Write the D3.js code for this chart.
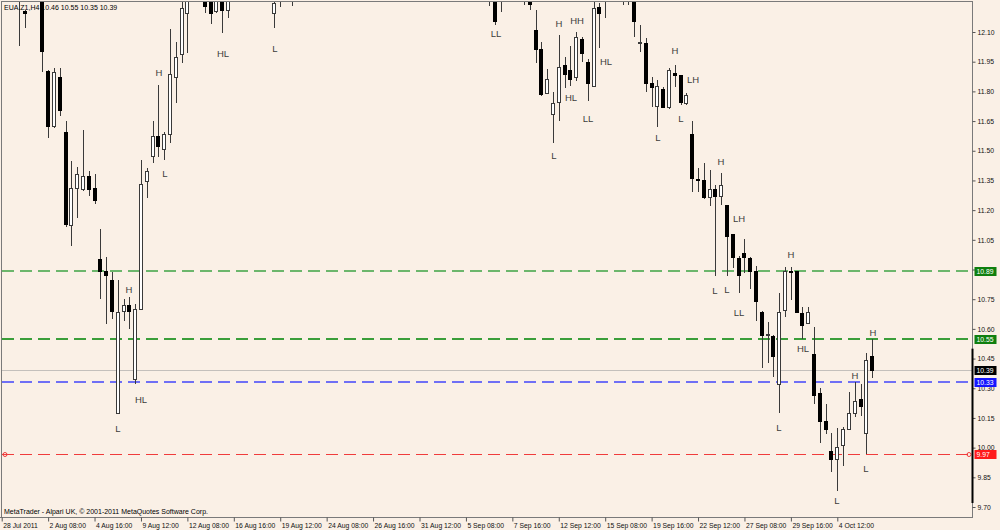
<!DOCTYPE html>
<html><head><meta charset="utf-8">
<script src="https://cdn.jsdelivr.net/npm/d3@7"></script>
<style>html,body{margin:0;padding:0;background:#FAF0E6;} svg{display:block;}</style>
</head><body><svg id="c" width="1000" height="530"></svg>
<script>
const title = "EUA.Z1,H4 10.46 10.55 10.35 10.39";
const copyright = "MetaTrader - Alpari UK, \u00A9 2001-2011 MetaQuotes Software Corp.";

// bar number (H4 bars from 28 Jul 2011) for each visible candle
const barIndex = [3,4,7,8,9,10,11,12,13,14,15,16,17,18,19,20,21,22,23,24,25,26,27,28,29,30,31,32,35,36,37,38,39,47,48,50,84,85,86,90,91,92,93,94,95,96,97,98,99,100,101,102,103,104,107,108,109,110,111,112,113,114,115,116,117,118,119,120,121,122,123,124,125,126,127,128,129,130,131,132,133,134,135,136,137,138,139,140,141,142,143,144,145,146,147,148,149,150];
const openP  = [12.30,12.203,12.32,11.898,11.621,11.869,11.591,11.120,11.310,11.302,11.372,11.310,10.953,10.889,10.842,10.173,10.690,10.720,10.342,10.699,11.347,11.473,11.571,11.507,11.580,11.869,11.984,12.191,12.28,12.30,12.203,12.31,12.208,12.191,12.30,12.29,12.30,12.31,12.27,12.28,12.26,12.110,12.013,11.790,11.681,11.743,11.930,11.903,11.869,12.063,11.945,11.827,12.225,12.29,12.28,12.29,12.27,12.041,12.043,11.841,11.726,11.810,11.720,11.891,11.878,11.740,11.580,11.354,11.352,11.263,11.302,11.268,11.221,11.078,10.956,10.982,10.956,10.889,10.682,10.567,10.560,10.321,10.693,10.890,10.889,10.680,10.628,10.471,10.271,10.131,9.979,9.941,10.013,10.092,10.170,10.241,10.069,10.46];
const highP  = [12.40,12.211,12.35,11.908,11.918,11.920,11.652,11.450,11.419,11.605,11.398,11.381,11.105,10.965,10.889,10.847,10.749,10.759,10.724,11.453,11.413,11.650,11.832,11.596,12.114,12.051,12.30,12.35,12.32,12.34,12.33,12.34,12.30,12.29,12.33,12.34,12.33,12.33,12.32,12.33,12.29,12.211,12.051,11.912,11.798,12.085,11.972,12.031,12.098,12.076,11.962,12.26,12.245,12.32,12.33,12.32,12.30,12.135,12.071,11.871,11.857,11.824,11.917,11.933,11.883,11.793,11.650,11.411,11.440,11.403,11.327,11.390,11.225,11.080,10.968,11.054,10.962,10.918,10.690,10.635,10.569,10.780,10.913,10.914,10.892,10.712,10.712,10.611,10.300,10.220,10.072,10.100,10.106,10.282,10.333,10.321,10.480,10.55];
const lowP   = [12.03,12.119,11.90,11.564,11.615,11.677,11.116,11.020,11.159,11.295,11.271,11.229,10.749,10.623,10.648,10.168,10.640,10.598,10.321,10.695,11.260,11.437,11.470,11.453,11.538,11.740,11.942,11.992,12.194,12.139,12.194,12.093,12.169,12.122,12.226,12.231,12.231,12.135,12.203,12.236,12.211,11.942,11.777,11.787,11.538,11.652,11.816,11.827,11.852,11.950,11.753,11.821,12.018,12.169,12.236,12.236,12.073,12.000,11.798,11.720,11.621,11.714,11.711,11.821,11.731,11.730,11.290,11.293,11.255,11.222,10.867,11.228,10.867,10.906,10.780,10.881,10.800,10.641,10.401,10.426,10.358,10.176,10.662,10.746,10.678,10.547,10.625,10.220,10.022,10.069,9.878,9.782,9.909,10.089,10.156,10.161,9.968,10.35];
const closeP = [12.36,12.191,12.00,11.625,11.894,11.701,11.128,11.310,11.381,11.372,11.302,11.251,10.889,10.869,10.690,10.682,10.720,10.690,10.699,11.330,11.394,11.571,11.520,11.583,11.883,11.972,12.220,12.30,12.231,12.194,12.30,12.211,12.26,12.245,12.28,12.31,12.27,12.152,12.29,12.30,12.24,12.013,11.782,11.861,11.740,11.920,11.883,11.861,12.071,11.992,11.841,12.220,12.191,12.27,12.30,12.27,12.152,12.045,11.841,11.821,11.827,11.720,11.903,11.881,11.743,11.778,11.361,11.351,11.265,11.302,11.268,11.322,11.069,10.962,10.872,10.962,10.889,10.737,10.569,10.571,10.459,10.682,10.889,10.887,10.682,10.619,10.682,10.261,10.131,10.092,9.942,9.999,10.092,10.173,10.232,10.207,10.439,10.39];

// time axis
const dateTickIndex = [0,8,16,24,32,40,48,56,64,72,80,88,96,104,112,120,128,136,144];
const dateTickLabels = ["28 Jul 2011","2 Aug 08:00","4 Aug 16:00","9 Aug 12:00","12 Aug 08:00","16 Aug 16:00","19 Aug 12:00","24 Aug 08:00","26 Aug 16:00","31 Aug 12:00","5 Sep 08:00","7 Sep 16:00","12 Sep 12:00","15 Sep 08:00","19 Sep 16:00","22 Sep 12:00","27 Sep 08:00","29 Sep 16:00","4 Oct 12:00"];
// price axis
const priceTicks = [9.70,9.85,10.00,10.15,10.30,10.45,10.60,10.75,10.90,11.05,11.20,11.35,11.50,11.65,11.80,11.95,12.10];

// horizontal levels
const levelValues = [10.89, 10.55, 10.39, 10.33, 9.97];
const levelKinds  = ["res1","res2","bid","blue","sup"];

// swing annotations
const noteText  = ["H","HL","L","H","L","HL","L","LL","H","HH","HL","LL","HL","L","H","LH","L","L","H","LH","L","L","LL","H","L","HL","H","H","L","L"];
const noteBar   = [22,24.07,20.05,27.03,28.07,38.16,47.03,85.1,96.09,99.14,98.15,101.09,104.16,95.1,116.09,119.1,113.07,117.12,124.02,127.12,122.98,125.05,127.07,136.03,134.02,138.07,150.1,147.12,149.02,144.02];
const notePrice = [10.781,10.225,10.079,11.878,11.367,11.974,11.999,12.075,12.125,12.140,11.751,11.645,11.933,11.458,11.989,11.842,11.549,11.645,11.428,11.140,10.776,10.781,10.665,10.958,10.084,10.483,10.564,10.347,9.877,9.715];

// ---------- drawing ----------
const BG = "#FAF0E6";
const plot = {left:2, right:972, top:2, bottom:517};
const svg = d3.select("#c");
const y = d3.scaleLinear().domain([9.70, 12.10]).range([507, 32]);
const x = d3.scaleLinear().domain([0, 144]).range([1.7, 837.3]);
const FONT = "'Liberation Sans', Arial, sans-serif";

svg.append("rect").attr("width",1000).attr("height",530).attr("fill",BG);

svg.append("defs").append("clipPath").attr("id","pc")
  .append("rect").attr("x",plot.left).attr("y",plot.top)
  .attr("width",plot.right-plot.left).attr("height",plot.bottom-plot.top);

const g = svg.append("g").attr("clip-path","url(#pc)");

// levels
const levelStyle = {
  res1:{stroke:"#6cb66c", w:2, dash:"12,6", box:"#0f7f0f", txt:"#ffffff"},
  res2:{stroke:"#3a9e3a", w:2, dash:"12,6", box:"#0f7f0f", txt:"#ffffff"},
  bid: {stroke:"#c4c0bc", w:1, dash:null,   box:"#000000", txt:"#ffffff"},
  blue:{stroke:"#6f6ff5", w:2, dash:"12,6", box:"#1515ff", txt:"#ffffff"},
  sup: {stroke:"#f03c3c", w:1, dash:"12,6", box:"#ff1a1a", txt:"#ffffff"}
};
const levels = levelValues.map((v,i)=>({v, k:levelKinds[i]}));
g.selectAll("line.lvl").data(levels).enter().append("line")
  .attr("class","lvl")
  .attr("shape-rendering","crispEdges")
  .attr("x1",plot.left).attr("x2",plot.right)
  .attr("y1",d=>Math.round(y(d.v))+(levelStyle[d.k].w%2 ? 0.5 : 0))
  .attr("y2",d=>Math.round(y(d.v))+(levelStyle[d.k].w%2 ? 0.5 : 0))
  .attr("stroke",d=>levelStyle[d.k].stroke)
  .attr("stroke-width",d=>levelStyle[d.k].w)
  .attr("stroke-dasharray",d=>levelStyle[d.k].dash);
// small end markers of the support line
const supV = levelValues[levelKinds.indexOf("sup")];
[plot.left+3, plot.right-3].forEach(px=>{
  g.append("circle").attr("cx",px).attr("cy",Math.round(y(supV))+0.5).attr("r",2)
   .attr("fill","none").attr("stroke","#f03c3c").attr("stroke-width",1);
});

// candles
const bars = barIndex.map((b,i)=>({b, o:openP[i], h:highP[i], l:lowP[i], c:closeP[i]}));
const cg = g.append("g").attr("shape-rendering","crispEdges");
cg.selectAll("line.wick").data(bars).enter().append("line")
  .attr("class","wick")
  .attr("x1",d=>Math.round(x(d.b))+0.5).attr("x2",d=>Math.round(x(d.b))+0.5)
  .attr("y1",d=>y(d.h)).attr("y2",d=>y(d.l))
  .attr("stroke","#3a3a3a").attr("stroke-width",1);
cg.selectAll("rect.body").data(bars).enter().append("rect")
  .attr("class","body")
  .attr("x",d=>Math.round(x(d.b))-1.5)
  .attr("width",3)
  .attr("y",d=>Math.min(y(d.o),y(d.c)))
  .attr("height",d=>Math.max(1,Math.abs(y(d.o)-y(d.c))))
  .attr("fill",d=>d.c>=d.o ? "#ffffff" : "#000000")
  .attr("stroke",d=>d.c>=d.o ? "#3a3a3a" : "#000000")
  .attr("stroke-width",1);

// annotations
g.selectAll("text.note").data(noteText.map((t,i)=>({t,b:noteBar[i],p:notePrice[i]}))).enter()
  .append("text").attr("class","note")
  .attr("x",d=>Math.round(x(d.b))).attr("y",d=>Math.round(y(d.p)))
  .attr("text-anchor","middle")
  .attr("font-family",FONT).attr("font-size",9.5).attr("fill","#3c3c3c")
  .text(d=>d.t);

// frame
svg.append("rect").attr("x",plot.left-0.5).attr("y",plot.top-0.5)
  .attr("width",plot.right-plot.left+1).attr("height",plot.bottom-plot.top+1)
  .attr("fill","none").attr("stroke","#7a7a7a").attr("stroke-width",1)
  .attr("shape-rendering","crispEdges");
svg.append("line").attr("x1",0).attr("x2",plot.right).attr("y1",plot.bottom+0.5).attr("y2",plot.bottom+0.5)
  .attr("stroke","#7a7a7a").attr("shape-rendering","crispEdges");

// right price axis
const ra = svg.append("g").attr("transform",`translate(${plot.right+0.5},0)`)
  .call(d3.axisRight(y).tickValues(priceTicks).tickFormat(d3.format(".2f")).tickSize(3).tickPadding(2));
ra.select(".domain").remove();
ra.selectAll("line").attr("stroke","#555");
ra.selectAll("text").attr("font-family",FONT).attr("font-size",6.8).attr("fill","#111");

// bottom time axis
const ba = svg.append("g").attr("transform",`translate(0,${plot.bottom+0.5})`)
  .call(d3.axisBottom(x).tickValues(dateTickIndex).tickFormat((d,i)=>dateTickLabels[i]).tickSize(4).tickPadding(1.5));
ba.select(".domain").remove();
ba.selectAll("line").attr("stroke","#555");
ba.selectAll("text").attr("text-anchor","start").attr("dx",1)
  .attr("font-family",FONT).attr("font-size",6.8).attr("fill","#111");

// dark range bar on the price scale
svg.append("line").attr("x1",plot.right+0.5).attr("x2",plot.right+0.5)
  .attr("y1",y(10.50)).attr("y2",y(9.72)).attr("stroke","#000").attr("stroke-width",2);

// level boxes on the price scale
const lb = svg.selectAll("g.lb").data(levels).enter().append("g").attr("class","lb")
  .attr("transform",d=>`translate(${plot.right+2.5},${Math.round(y(d.v))+0.5})`);
lb.append("rect").attr("x",0).attr("y",-4.5).attr("width",22).attr("height",9)
  .attr("fill",d=>levelStyle[d.k].box);
lb.append("text").attr("x",2).attr("y",0).attr("dy","0.36em")
  .attr("font-family",FONT).attr("font-size",6.8).attr("fill",d=>levelStyle[d.k].txt)
  .text(d=>d3.format(".2f")(d.v));

// texts
svg.append("text").attr("x",4).attr("y",10).attr("font-family",FONT).attr("font-size",7)
  .attr("fill","#000").text(title);
svg.append("text").attr("x",4).attr("y",514).attr("font-family",FONT).attr("font-size",7)
  .attr("fill","#000").text(copyright);
</script></body></html>
